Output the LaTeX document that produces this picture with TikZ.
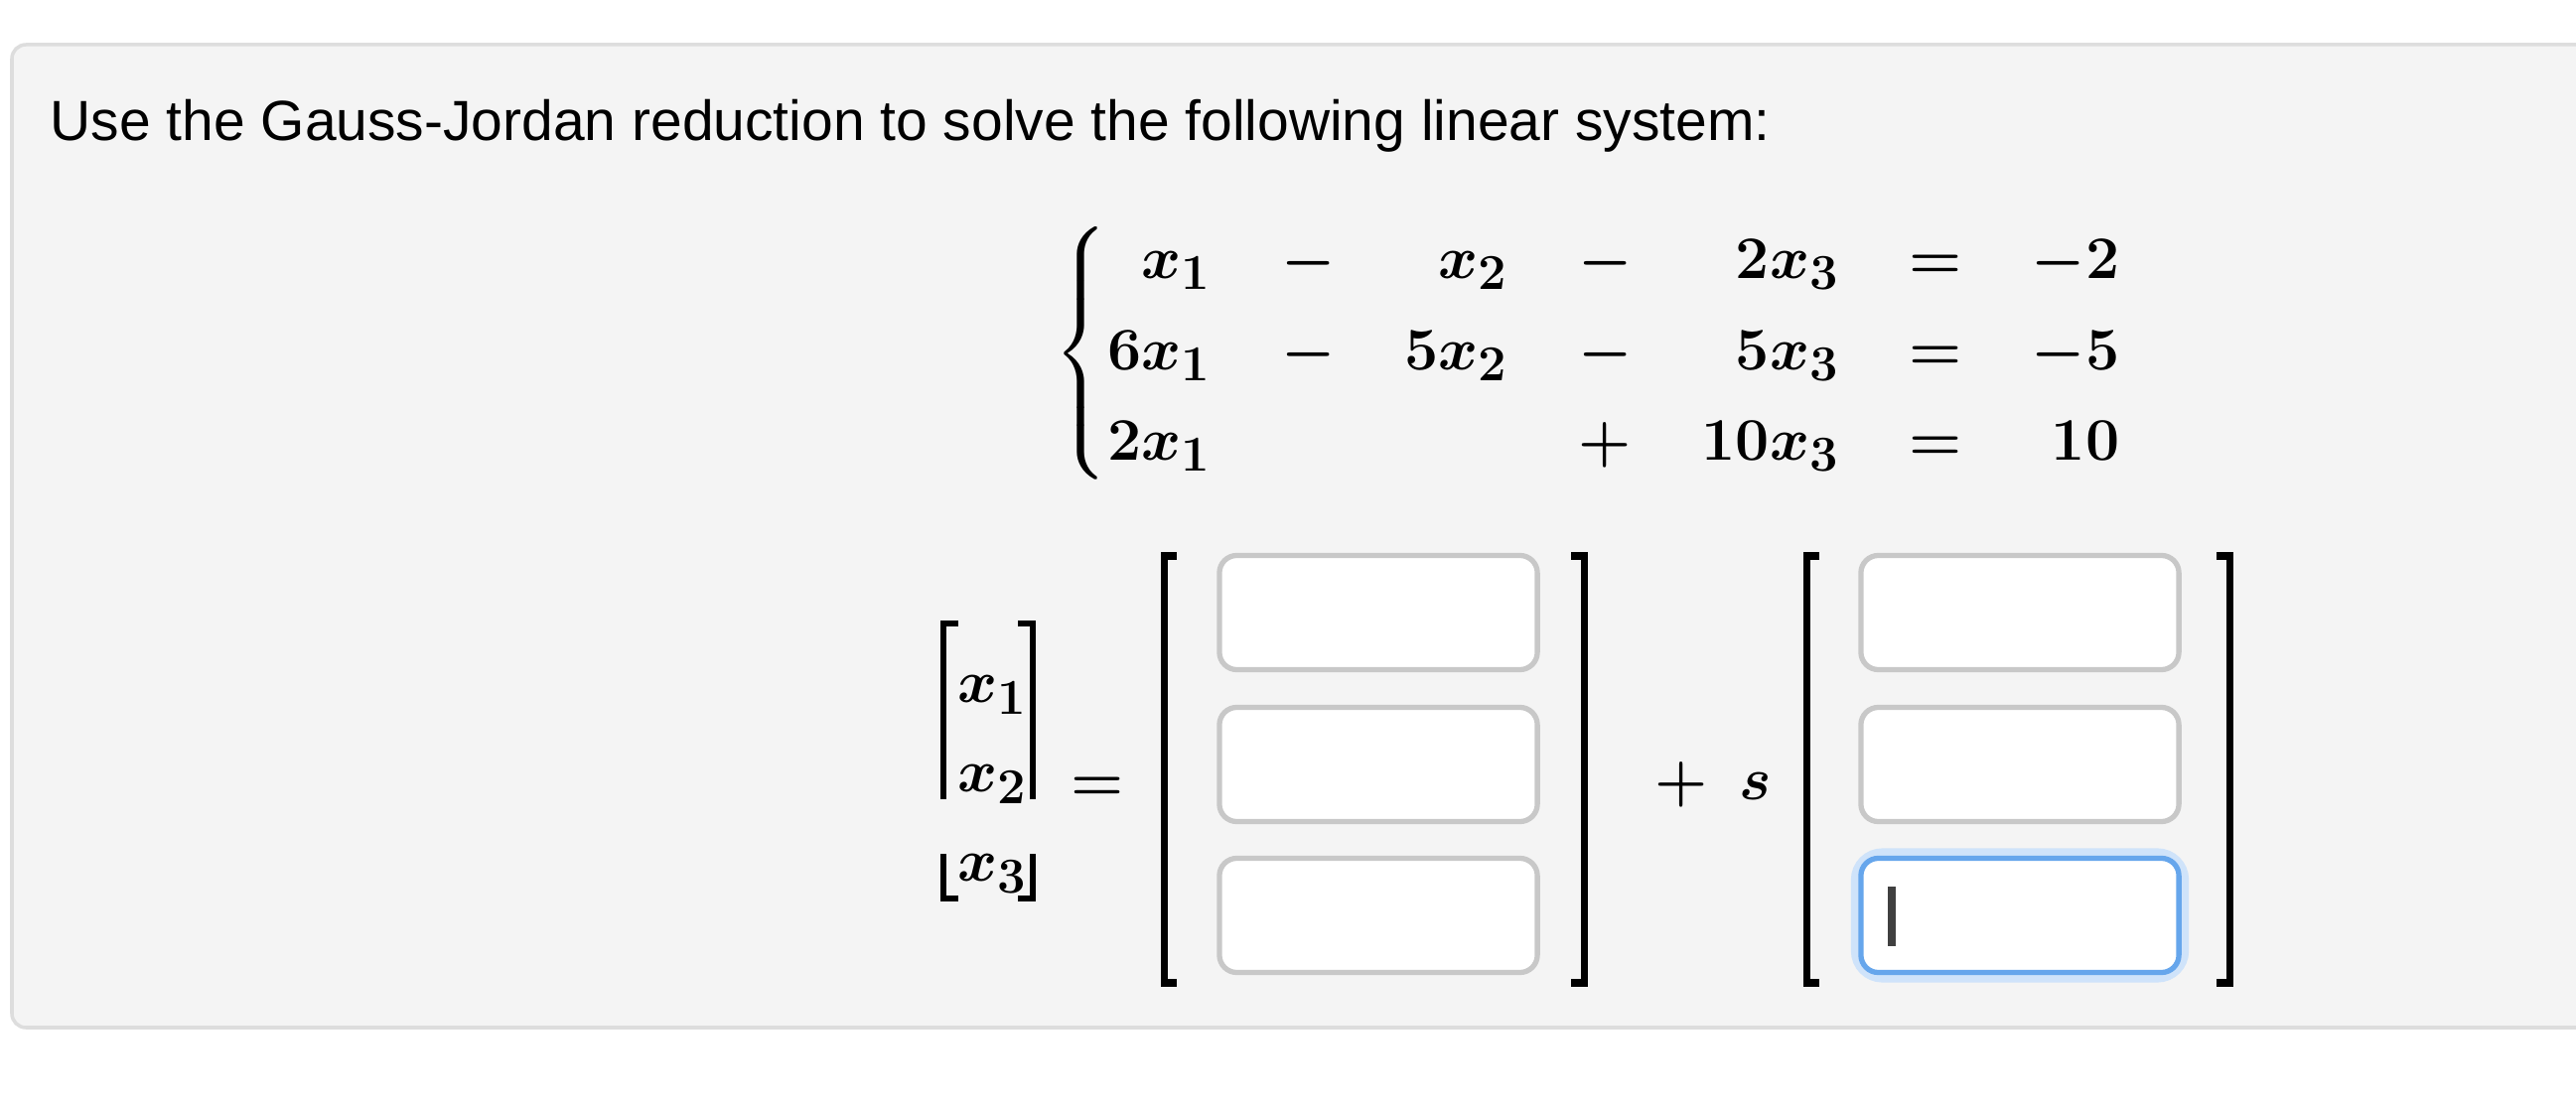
\documentclass[tikz,border=0pt]{standalone}
\usepackage{fontspec}
\usepackage{amsmath}
\newfontfamily\uisans{Liberation Sans}
\definecolor{panelbg}{HTML}{F4F4F4}
\definecolor{panelbd}{HTML}{DDDDDD}
\definecolor{boxbd}{HTML}{C8C8C8}
\definecolor{focusbd}{HTML}{66A6EC}
\definecolor{glow}{HTML}{CFE3FA}
\begin{document}
\begin{tikzpicture}[x=0.01cm,y=-0.01cm,
  mth/.style={font=\fontsize{19}{23}\selectfont\boldmath,inner sep=0pt},
  inbox/.style={draw=boxbd,line width=1.5pt,fill=white,rounded corners=5pt,minimum width=3.2cm,minimum height=1.15cm},
  brk/.style={line width=2pt,black}]
\useasboundingbox[fill=white] (0,0) rectangle (2594,1113);
\path[fill=panelbg,draw=panelbd,line width=1pt,rounded corners=4pt] (12,45) rectangle (2650,1035);
\node[anchor=base west,inner sep=0pt,font=\uisans\fontsize{16.2}{20}\selectfont] (title) at (50,142) {Use the Gauss-Jordan reduction to solve the following linear system:};
% system
\node[mth] (sys) at (1600,356) {$\left\{\begin{array}{@{}r@{\hspace{1.05em}}c@{\hspace{1.05em}}r@{\hspace{1.05em}}c@{\hspace{1.05em}}r@{\hspace{1.05em}}c@{\hspace{1.05em}}r@{}}
x_1 & - & x_2 & - & 2x_3 & = & -2\\[3pt]
6x_1 & - & 5x_2 & - & 5x_3 & = & -5\\[3pt]
2x_1 & & & + & 10x_3 & = & 10
\end{array}\right.$};
% left vector
\node[mth] (v1) at (1000,700) {$x_1$};
\node[mth] (v2) at (1000,790) {$x_2$};
\node[mth] (v3) at (1000,880) {$x_3$};
\draw[line width=1.5pt] (950,805) -- (950,628) -- (965,628);
\draw[line width=1.5pt] (1040,805) -- (1040,628) -- (1025,628);
\draw[line width=1.5pt] (950,860) -- (950,905) -- (965,905);
\draw[line width=1.5pt] (1040,860) -- (1040,905) -- (1025,905);
\node[mth] (eq) at (1105,795) {$=$};
% first vector
\draw[brk] (1185,560) -- (1172,560) -- (1172,990) -- (1185,990);
\draw[brk] (1582,560) -- (1595,560) -- (1595,990) -- (1582,990);
\node[inbox] (a1) at (1388,617) {};
\node[inbox] (a2) at (1388,770) {};
\node[inbox] (a3) at (1388,922) {};
\node[mth] (plus) at (1693,790) {$+$};
\node[mth] (s) at (1768,792) {$s$};
% second vector
\draw[brk] (1832,560) -- (1819,560) -- (1819,990) -- (1832,990);
\draw[brk] (2232,560) -- (2245,560) -- (2245,990) -- (2232,990);
\node[inbox] (b1) at (2034,617) {};
\node[inbox] (b2) at (2034,770) {};
\node[draw=glow,line width=4pt,rounded corners=7pt,minimum width=3.26cm,minimum height=1.21cm] (b3glow) at (2034,922) {};
\node[inbox,draw=focusbd] (b3) at (2034,922) {};
\coordinate (c1) at (1905,893);
\coordinate (c2) at (1905,953);
\draw[line width=2.5pt,black!75] (c1) -- (c2);
\end{tikzpicture}
\end{document}
